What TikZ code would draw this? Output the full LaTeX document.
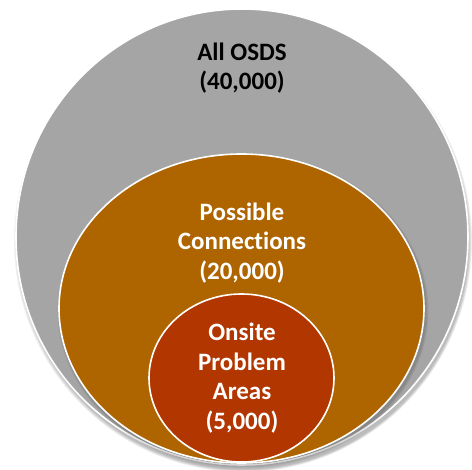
\documentclass[tikz,border=0pt]{standalone}
\usepackage{fontspec}
\setmainfont[Ligatures={NoCommon}]{Carlito}
\begin{document}
\begin{tikzpicture}[x=1pt,y=-1pt,
  ring/.style={draw=white, line width=1.6pt},
  lbl/.style={align=center, font=\fontsize{25}{29.7}\selectfont\bfseries, inner sep=0pt},
  shade/.style={fill=black, opacity=0.06}]
\definecolor{osdsgray}{HTML}{A5A5A5}
\definecolor{connorange}{HTML}{AE6500}
\definecolor{onsitered}{HTML}{B23600}
\useasboundingbox (0,0) rectangle (472,470);
% soft drop shadow under the outer disc
\foreach \s in {0,1,2,3,4}
  \fill[shade] (243+\s*0.2,241+\s*0.4) ellipse ({226+3-\s} and {228+3-\s});
% all OSDS
\draw[ring, fill=osdsgray] (242,237) ellipse (226 and 228);
% soft shadow under the middle disc
\foreach \s in {0,1,2}
  \fill[shade] (243,311) ellipse ({182.5+3-\s} and {154.5+3-\s});
% possible connections
\draw[ring, fill=connorange] (241.5,308.5) ellipse (182.5 and 154.5);
% onsite problem areas
\draw[ring, fill=onsitered] (241.5,378) ellipse (92.5 and 84);
\node[lbl, text=black] (osds) at (242,68) {All OSDS\\(40,000)};
\node[lbl, text=white] (conn) at (242,243) {Possible\\Connections\\(20,000)};
\node[lbl, text=white] (onsite) at (242,378) {Onsite\\Problem\\Areas\\(5,000)};
\end{tikzpicture}
\end{document}
